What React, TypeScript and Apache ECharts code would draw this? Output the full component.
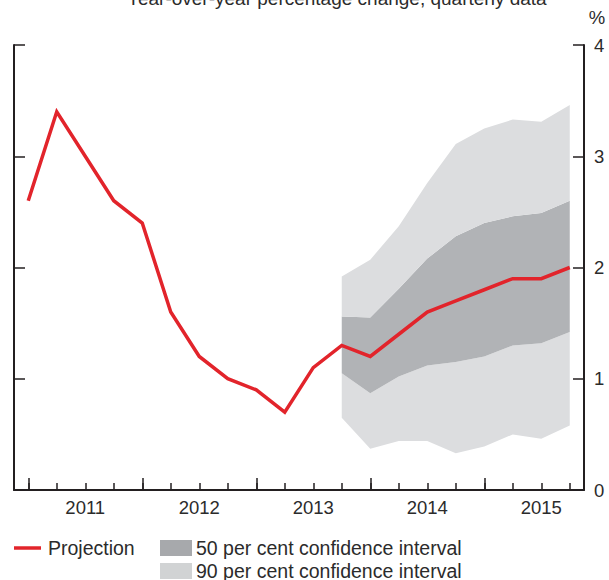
import React, { useEffect, useRef } from "react";
import * as echarts from "echarts";

const quarters = [
  "2011Q1", "2011Q2", "2011Q3", "2011Q4",
  "2012Q1", "2012Q2", "2012Q3", "2012Q4",
  "2013Q1", "2013Q2", "2013Q3", "2013Q4",
  "2014Q1", "2014Q2", "2014Q3", "2014Q4",
  "2015Q1", "2015Q2", "2015Q3", "2015Q4",
];
const projection = [2.6, 3.4, 3.0, 2.6, 2.4, 1.6, 1.2, 1.0, 0.9, 0.7, 1.1, 1.3, 1.2, 1.4, 1.6, 1.7, 1.8, 1.9, 1.9, 2.0];
const N = null;
const lower90 = [N, N, N, N, N, N, N, N, N, N, N, 0.65, 0.37, 0.44, 0.44, 0.33, 0.39, 0.5, 0.46, 0.58];
const lower50 = [N, N, N, N, N, N, N, N, N, N, N, 1.05, 0.87, 1.02, 1.12, 1.15, 1.2, 1.3, 1.32, 1.42];
const upper50 = [N, N, N, N, N, N, N, N, N, N, N, 1.56, 1.55, 1.81, 2.08, 2.28, 2.4, 2.46, 2.49, 2.6];
const upper90 = [N, N, N, N, N, N, N, N, N, N, N, 1.92, 2.07, 2.37, 2.76, 3.11, 3.25, 3.33, 3.31, 3.46];
const yMin = 0;
const yMax = 4;
const yStep = 1;

const titleText = "Year-over-year percentage change, quarterly data";
const unitText = "%";
const legendProjection = "Projection";
const legend50 = "50 per cent confidence interval";
const legend90 = "90 per cent confidence interval";

const RED = "#e2242b";
const DARK = "#b1b3b6";
const LIGHT = "#dcdddf";
const INK = "#231f20";
const TEXT = "#2b2b2b";
const FONT = "'Liberation Sans', Arial, Helvetica, sans-serif";

function diff(a: (number | null)[], b: (number | null)[]) {
  return a.map((v, i) => (v == null || b[i] == null ? "-" : +((v as number) - (b[i] as number)).toFixed(3)));
}
const orDash = (a: (number | null)[]) => a.map((v) => (v == null ? "-" : v));

export default function App() {
  const ref = useRef<HTMLDivElement>(null);
  useEffect(() => {
    if (!ref.current) return;
    const chart = echarts.init(ref.current, undefined, { renderer: "svg" });
    const bandSeries = (name: string, data: any[], color: string | null) => ({
      name,
      type: "line",
      stack: "fan",
      data,
      xAxisIndex: 0,
      yAxisIndex: 0,
      symbol: "none",
      showSymbol: false,
      silent: true,
      lineStyle: { width: 0, opacity: 0 },
      areaStyle: color ? { color, opacity: 1 } : { opacity: 0 },
      z: 1,
    });
    chart.setOption({
      animation: false,
      textStyle: { fontFamily: FONT },
      grid: { left: 14, right: 25, top: 45, bottom: 90, containLabel: false },
      xAxis: [
        {
          type: "category",
          data: quarters,
          boundaryGap: true,
          axisLine: { show: true, lineStyle: { color: INK, width: 2 } },
          axisTick: { show: true, inside: true, length: 7, interval: 0, alignWithLabel: true, lineStyle: { color: INK, width: 1.5 } },
          axisLabel: {
            interval: (i: number) => i % 4 === 2,
            formatter: (v: string) => v.slice(0, 4),
            fontSize: 18.5,
            color: TEXT,
            fontFamily: FONT,
            margin: 8,
          },
          splitLine: { show: false },
        },
        {
          type: "category",
          data: quarters,
          position: "bottom",
          boundaryGap: true,
          axisLine: { show: false },
          axisTick: { show: true, inside: true, length: 12, interval: (i: number) => i % 4 === 0, alignWithLabel: true, lineStyle: { color: INK, width: 1.5 } },
          axisLabel: { show: false },
          splitLine: { show: false },
        },
      ],
      yAxis: [
        {
          type: "value",
          position: "left",
          min: yMin,
          max: yMax,
          interval: yStep,
          axisLine: { show: true, lineStyle: { color: INK, width: 2 } },
          axisTick: { show: true, inside: true, length: 11, lineStyle: { color: INK, width: 1.5 } },
          axisLabel: { show: false },
          splitLine: { show: false },
        },
        {
          type: "value",
          position: "right",
          min: yMin,
          max: yMax,
          interval: yStep,
          axisLine: { show: true, lineStyle: { color: INK, width: 2 } },
          axisTick: { show: true, inside: true, length: 11, lineStyle: { color: INK, width: 1.5 } },
          axisLabel: { show: true, fontSize: 18.5, color: TEXT, fontFamily: FONT, margin: 10 },
          splitLine: { show: false },
        },
      ],
      series: [
        bandSeries("base", orDash(lower90), null),
        bandSeries("90 low", diff(lower50, lower90), LIGHT),
        bandSeries(legend50, diff(upper50, lower50), DARK),
        bandSeries("90 high", diff(upper90, upper50), LIGHT),
        {
          name: legendProjection,
          type: "line",
          data: projection,
          xAxisIndex: 0,
          yAxisIndex: 0,
          symbol: "none",
          showSymbol: false,
          lineStyle: { color: RED, width: 3.5, join: "miter" },
          z: 5,
        },
      ],
      graphic: [
        {
          type: "text",
          left: 127,
          top: -11,
          style: { text: titleText, font: `19px ${FONT}`, fill: TEXT },
        },
        {
          type: "text",
          x: 597,
          y: 17,
          style: { text: unitText, font: `18.5px ${FONT}`, fill: TEXT, align: "center", verticalAlign: "middle" },
        },
        {
          type: "line",
          shape: { x1: 14, y1: 548, x2: 41, y2: 548 },
          style: { stroke: RED, lineWidth: 3.5 },
        },
        {
          type: "text",
          x: 48,
          y: 548,
          style: { text: legendProjection, font: `19.5px ${FONT}`, fill: TEXT, verticalAlign: "middle" },
        },
        {
          type: "rect",
          shape: { x: 160, y: 540, width: 32, height: 16 },
          style: { fill: "#a7a9ac" },
        },
        {
          type: "text",
          x: 196,
          y: 548,
          style: { text: legend50, font: `19.5px ${FONT}`, fill: TEXT, verticalAlign: "middle" },
        },
        {
          type: "rect",
          shape: { x: 160, y: 563, width: 32, height: 16 },
          style: { fill: "#d1d3d4" },
        },
        {
          type: "text",
          x: 196,
          y: 571,
          style: { text: legend90, font: `19.5px ${FONT}`, fill: TEXT, verticalAlign: "middle" },
        },
      ],
    });
    return () => chart.dispose();
  }, []);
  return (
    <div
      ref={ref}
      style={{ position: "absolute", left: 0, top: 0, width: 609, height: 580, background: "#fff" }}
    />
  );
}
